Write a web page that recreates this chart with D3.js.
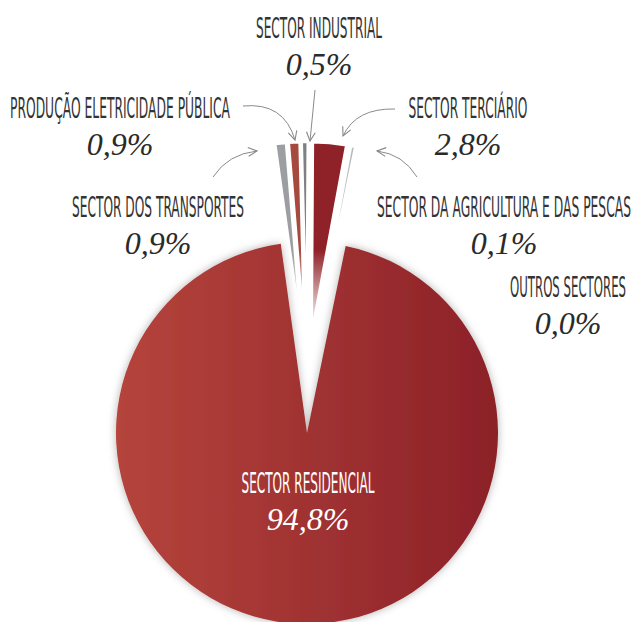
<!DOCTYPE html>
<html>
<head>
<meta charset="utf-8">
<script src="https://cdn.jsdelivr.net/npm/d3@7"></script>
<style>
  body { margin: 0; background: #fff; }
  svg { display: block; }
</style>
</head>
<body>
<div id="chart"></div>
<script>
// data, clockwise from the left edge of the notch
var categories = ["SECTOR DOS TRANSPORTES", "PRODUÇÃO ELETRICIDADE PÚBLICA", "SECTOR INDUSTRIAL",
                  "SECTOR TERCIÁRIO", "SECTOR DA AGRICULTURA E DAS PESCAS", "OUTROS SECTORES", "SECTOR RESIDENCIAL"];
var values = [0.9, 0.9, 0.5, 2.8, 0.1, 0.0, 94.8];
var valueLabels = ["0,9%", "0,9%", "0,5%", "2,8%", "0,1%", "0,0%", "94,8%"];

var colors = ["#9d9ea2", "#a64a3f", "#7f8084", "#8e2228", "#b8b9bc", "#cccccc", "url(#resGrad)"];

// label placement: centre x, baseline y, text width
var labelPos = {
  "SECTOR DOS TRANSPORTES":            {x: 158, y: 217, w: 172},
  "PRODUÇÃO ELETRICIDADE PÚBLICA":     {x: 120, y: 118, w: 220},
  "SECTOR INDUSTRIAL":                 {x: 319, y: 38,  w: 126},
  "SECTOR TERCIÁRIO":                  {x: 468, y: 118, w: 119},
  "SECTOR DA AGRICULTURA E DAS PESCAS":{x: 504, y: 217, w: 254},
  "OUTROS SECTORES":                   {x: 568, y: 297, w: 116},
  "SECTOR RESIDENCIAL":                {x: 308, y: 493, w: 133}
};

var width = 636, height = 622;
var cx = 307, cy = 433, radius = 191;

var svg = d3.select("#chart").append("svg")
    .attr("width", width)
    .attr("height", height);

var defs = svg.append("defs");

// gradient is in the slice's own (translated) space
var grad = defs.append("linearGradient")
    .attr("id", "resGrad")
    .attr("gradientUnits", "userSpaceOnUse")
    .attr("x1", -radius).attr("y1", 0)
    .attr("x2", radius).attr("y2", 0);
grad.append("stop").attr("offset", "0%").attr("stop-color", "#b5443c");
grad.append("stop").attr("offset", "100%").attr("stop-color", "#8c2128");

var shadow = defs.append("filter")
    .attr("id", "shadow")
    .attr("x", "-20%").attr("y", "-20%")
    .attr("width", "140%").attr("height", "140%");
shadow.append("feDropShadow")
    .attr("dx", 0).attr("dy", 0)
    .attr("stdDeviation", 4)
    .attr("flood-color", "#000")
    .attr("flood-opacity", 0.3);

// fade the exploded strips towards the pie centre
var fade = defs.append("linearGradient")
    .attr("id", "fadeGrad")
    .attr("gradientUnits", "userSpaceOnUse")
    .attr("x1", 0).attr("y1", 250)
    .attr("x2", 0).attr("y2", 328);
fade.append("stop").attr("offset", "0%").attr("stop-color", "#fff");
fade.append("stop").attr("offset", "100%").attr("stop-color", "#000");
defs.append("mask")
    .attr("id", "fadeMask")
    .attr("maskUnits", "userSpaceOnUse")
    .attr("x", 0).attr("y", 0).attr("width", width).attr("height", height)
  .append("rect")
    .attr("width", width).attr("height", height)
    .attr("fill", "url(#fadeGrad)");

var marker = defs.append("marker")
    .attr("id", "arrow")
    .attr("markerUnits", "userSpaceOnUse")
    .attr("viewBox", "0 0 10 10")
    .attr("refX", 9).attr("refY", 5)
    .attr("markerWidth", 11).attr("markerHeight", 11)
    .attr("orient", "auto");
marker.append("path")
    .attr("d", "M1,1 L9,5 L1,9")
    .attr("fill", "none")
    .attr("stroke", "#888")
    .attr("stroke-width", 1);

var startA = -7.9 * Math.PI / 180;
var pie = d3.pie()
    .sort(null)
    .startAngle(startA)
    .endAngle(startA + 2 * Math.PI)
    .value(function(d, i) { return d > 0 ? Math.max(d, 0.35) : 0; });

var arcs = pie(values);
var arc = d3.arc().innerRadius(0).outerRadius(radius);

// small slices, pushed up and out
var small = svg.append("g").attr("mask", "url(#fadeMask)");
small.selectAll("path")
  .data(arcs.slice(0, 6).filter(function(d) { return d.data > 0; }))
  .enter()
  .append("path")
    .attr("d", arc)
    .attr("fill", function(d) { return colors[d.index]; })
    .attr("stroke", "#fff")
    .attr("stroke-width", 2.5)
    .attr("transform", function(d) {
      var mid = (d.startAngle + d.endAngle) / 2;
      var ox = 50 * Math.sin(mid), oy = -50 - 50 * Math.cos(mid);
      return "translate(" + (cx + ox) + "," + (cy + oy) + ")";
    });

// main slice
svg.append("path")
    .datum(arcs[6])
    .attr("d", arc)
    .attr("transform", "translate(" + cx + "," + cy + ")")
    .attr("fill", colors[6])
    .attr("filter", "url(#shadow)");

// arrows
var arrows = [
  "M243,106 Q284,102 295,140",
  "M315,90 L310,141",
  "M395,109 Q356,108 343,136",
  "M213,177 Q228,154 257,151",
  "M417,177 Q403,154 377,151"
];
svg.selectAll(".arrow")
  .data(arrows)
  .enter()
  .append("path")
    .attr("class", "arrow")
    .attr("d", function(d) { return d; })
    .attr("fill", "none")
    .attr("stroke", "#8a8a8a")
    .attr("stroke-width", 1)
    .attr("marker-end", "url(#arrow)");

// labels
var labels = svg.selectAll(".lab")
  .data(categories)
  .enter()
  .append("g")
    .attr("class", "lab");

labels.append("text")
    .attr("x", function(d) { return labelPos[d].x; })
    .attr("y", function(d) { return labelPos[d].y; })
    .attr("text-anchor", "middle")
    .attr("textLength", function(d) { return labelPos[d].w; })
    .attr("lengthAdjust", "spacingAndGlyphs")
    .style("font-family", "'DejaVu Sans', sans-serif")
    .style("font-size", "29px")
    .attr("fill", function(d, i) { return i === 6 ? "#fff" : "#333"; })
    .text(function(d) { return d; });

labels.append("text")
    .attr("x", function(d) { return labelPos[d].x; })
    .attr("y", function(d) { return labelPos[d].y + 37; })
    .attr("text-anchor", "middle")
    .style("font-family", "'Liberation Serif', serif")
    .style("font-style", "italic")
    .style("font-size", "32px")
    .attr("fill", function(d, i) { return i === 6 ? "#fff" : "#2a2a2a"; })
    .text(function(d, i) { return valueLabels[i]; });
</script>
</body>
</html>
